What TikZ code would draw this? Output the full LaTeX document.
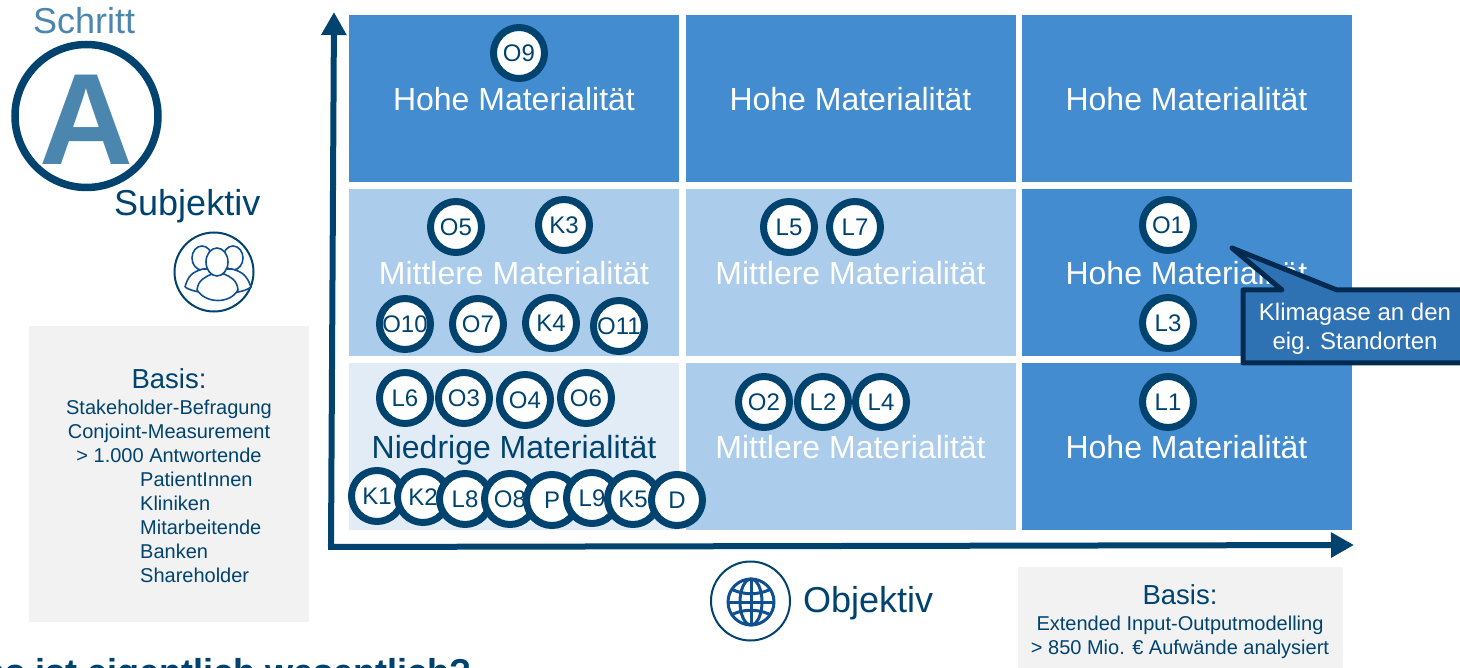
\documentclass[tikz,border=0pt]{standalone}
\usepackage{fontspec}
\setmainfont{Liberation Sans}
\usetikzlibrary{arrows.meta}
\definecolor{darkblue}{HTML}{00436F}
\definecolor{stepblue}{HTML}{4A86AD}
\definecolor{iconblue}{HTML}{0F4F92}
\definecolor{cellhighblue}{HTML}{438CD0}
\definecolor{cellmidblue}{HTML}{ABCCEA}
\definecolor{celllowblue}{HTML}{E1ECF7}
\definecolor{calloutblue}{HTML}{2E72B4}
\definecolor{calloutline}{HTML}{002A50}
\definecolor{boxgray}{HTML}{F2F2F2}
\newcommand{\sizetext}[1]{\fontsize{#1}{#1}\selectfont}
\begin{document}
\begin{tikzpicture}
		[x=1pt,y=-1pt,
		cell/.style={inner sep=0pt,minimum width=330pt,minimum height=167pt,font=\sizetext{32},text height=24pt,text depth=0pt},
		cellhigh/.style={cell,fill=cellhighblue,text=white},
		cellmid/.style={cell,fill=cellmidblue,text=white},
		celllow/.style={cell,fill=celllowblue,text=darkblue},
		topic/.style={circle,draw=darkblue,fill=white,line width=7pt,minimum size=51pt,inner sep=0pt,text=darkblue,font=\sizetext{24}},
		axis/.style={line width=6pt,draw=darkblue,-{Triangle[length=23pt,width=24pt]}},
		title/.style={anchor=base west,inner sep=0pt,font=\sizetext{36}},
		basishead/.style={inner sep=0pt,text=darkblue,font=\sizetext{27.5}},
		basisline/.style={inner sep=0pt,text=darkblue,font=\sizetext{20},text height=14.3pt,text depth=0pt},
		basisitem/.style={basisline,anchor=west},
		person/.style={draw=iconblue,fill=white,line width=1.6pt},
		globe/.style={draw=iconblue,line width=3pt}]
		\clip (0,0) rectangle (1460,668);

		% draw the matrix cells
		\node [cellhigh] (cellA) at (514,98.5) {Hohe Materialität};
		\node [cellhigh] (cellB) at (850.5,98.5) {Hohe Materialität};
		\node [cellhigh] (cellC) at (1186.5,98.5) {Hohe Materialität};
		\node [cellmid] (cellD) at (514,272.5) {Mittlere Materialität};
		\node [cellmid] (cellE) at (850.5,272.5) {Mittlere Materialität};
		\node [cellhigh] (cellF) at (1186.5,272.5) {Hohe Materialität};
		\node [celllow] (cellG) at (514,446.5) {Niedrige Materialität};
		\node [cellmid] (cellH) at (850.5,446.5) {Mittlere Materialität};
		\node [cellhigh] (cellI) at (1186.5,446.5) {Hohe Materialität};

		% draw the two axes
		\coordinate (origin) at (331,547);
		\coordinate (xstart) at (328,547);
		\coordinate (xtip) at (1354,545);
		\coordinate (ytip) at (334,12);
		\draw [axis] (origin) -- (ytip);
		\draw [axis] (xstart) -- (xtip);

		% draw the topics, upper rows
		\node [topic] (O9) at (519,53) {O9};
		\node [topic] (O5) at (456,227) {O5};
		\node [topic] (K3) at (564,225) {K3};
		\node [topic] (L5) at (789,227) {L5};
		\node [topic] (L7) at (855,227) {L7};
		\node [topic] (O1) at (1168,225) {O1};
		\node [topic] (O10) at (405,324) {O10};
		\node [topic] (O7) at (478,324) {O7};
		\node [topic] (K4) at (551,323) {K4};
		\node [topic] (O11) at (619,326) {O11};
		\node [topic] (L3) at (1168,323) {L3};

		% draw the topics, lower rows
		\node [topic] (L6) at (405,398) {L6};
		\node [topic] (O3) at (464,398) {O3};
		\node [topic] (O4) at (525,400) {O4};
		\node [topic] (O6) at (586,398) {O6};
		\node [topic] (O2) at (764,402) {O2};
		\node [topic] (L2) at (823,402) {L2};
		\node [topic] (L4) at (881,402) {L4};
		\node [topic] (L1) at (1168,402) {L1};
		\node [topic] (K1) at (377,496) {K1};
		\node [topic] (K2) at (423,497) {K2};
		\node [topic] (L8) at (465,499) {L8};
		\node [topic] (O8) at (510,499) {O8};
		\node [topic] (P) at (552,500) {P};
		\node [topic] (L9) at (592,498) {L9};
		\node [topic] (K5) at (633,499) {K5};
		\node [topic] (D) at (677,500) {D};

		% draw the callout
		\draw [fill=calloutblue,draw=calloutline,line width=5pt,line join=round] (1243,290) -- (1282,290) -- (1232,248) -- (1337,290) -- (1475,290) -- (1475,363) -- (1243,363) -- cycle;
		\node [inner sep=0pt,align=center,text=white,font=\fontsize{24}{29}\selectfont] (climate) at (1355,329) {Klimagase an den\\eig. Standorten};

		% draw the step badge
		\node [title,text=stepblue] (step) at (33,34) {Schritt};
		\node [circle,draw=darkblue,line width=7.5pt,minimum size=143pt,inner sep=0pt] (badge) at (86.5,116) {};
		\node [anchor=base,inner sep=0pt,text=stepblue,font=\sizetext{130}\bfseries] (letter) at (86.5,165) {A};
		\node [title,text=darkblue] (subjective) at (114,216) {Subjektiv};

		% draw the people icon
		\node [circle,draw=darkblue,line width=2pt,minimum size=79pt,inner sep=0pt] (peopleicon) at (214,272) {};
		\draw [person] (202,258) ellipse [x radius=10pt,y radius=12pt];
		\draw [person] (233,258) ellipse [x radius=10pt,y radius=12pt];
		\draw [person] (185,287) .. controls (188,276) and (192,272) .. (203,269) -- (232,269) .. controls (243,272) and (247,276) .. (251,287) .. controls (240,296) and (198,296) .. (185,287);
		\draw [person] (197,290) .. controls (198,280) and (205,277) .. (212,274) -- (224,274) .. controls (231,277) and (237,280) .. (238,290) .. controls (230,304) and (206,304) .. (197,290);
		\draw [person] (217,262) ellipse [x radius=11pt,y radius=14pt];

		% draw the left basis box
		\fill [boxgray] (29,326) rectangle (309,622);
		\node [basishead] (basisleft) at (169,379) {Basis:};
		\node [basisline] (survey) at (169,407) {Stakeholder-Befragung};
		\node [basisline] (conjoint) at (169,431) {Conjoint-Measurement};
		\node [basisline] (answers) at (169,455) {> 1.000 Antwortende};
		\node [basisitem] (patients) at (140,479) {PatientInnen};
		\node [basisitem] (clinics) at (140,503) {Kliniken};
		\node [basisitem] (staff) at (140,527) {Mitarbeitende};
		\node [basisitem] (banks) at (140,551) {Banken};
		\node [basisitem] (shareholder) at (140,575) {Shareholder};

		% draw the globe icon
		\node [circle,draw=darkblue,line width=2pt,minimum size=79pt,inner sep=0pt] (globeicon) at (750.5,601) {};
		\draw [globe] (751,602) circle [radius=23pt];
		\draw [globe] (751,602) ellipse [x radius=11pt,y radius=23pt];
		\draw [globe] (751,579) -- (751,625);
		\draw [globe] (728,602) -- (774,602);
		\draw [globe] (733,590) .. controls (745,595) and (757,595) .. (769,590);
		\draw [globe] (733,614) .. controls (745,609) and (757,609) .. (769,614);
		\node [title,text=darkblue] (objective) at (803,612) {Objektiv};

		% draw the right basis box
		\fill [boxgray] (1018,567) rectangle (1343,668);
		\node [basishead] (basisright) at (1180,595) {Basis:};
		\node [basisline] (modelling) at (1180,623) {Extended Input-Outputmodelling};
		\node [basisline] (expenses) at (1180,647) {> 850 Mio. € Aufwände analysiert};

		% draw the cut off question
		\node [anchor=base east,inner sep=0pt,text=darkblue,font=\sizetext{36}\bfseries] (question) at (472,684) {Was ist eigentlich wesentlich?};
	\end{tikzpicture}
\end{document}
